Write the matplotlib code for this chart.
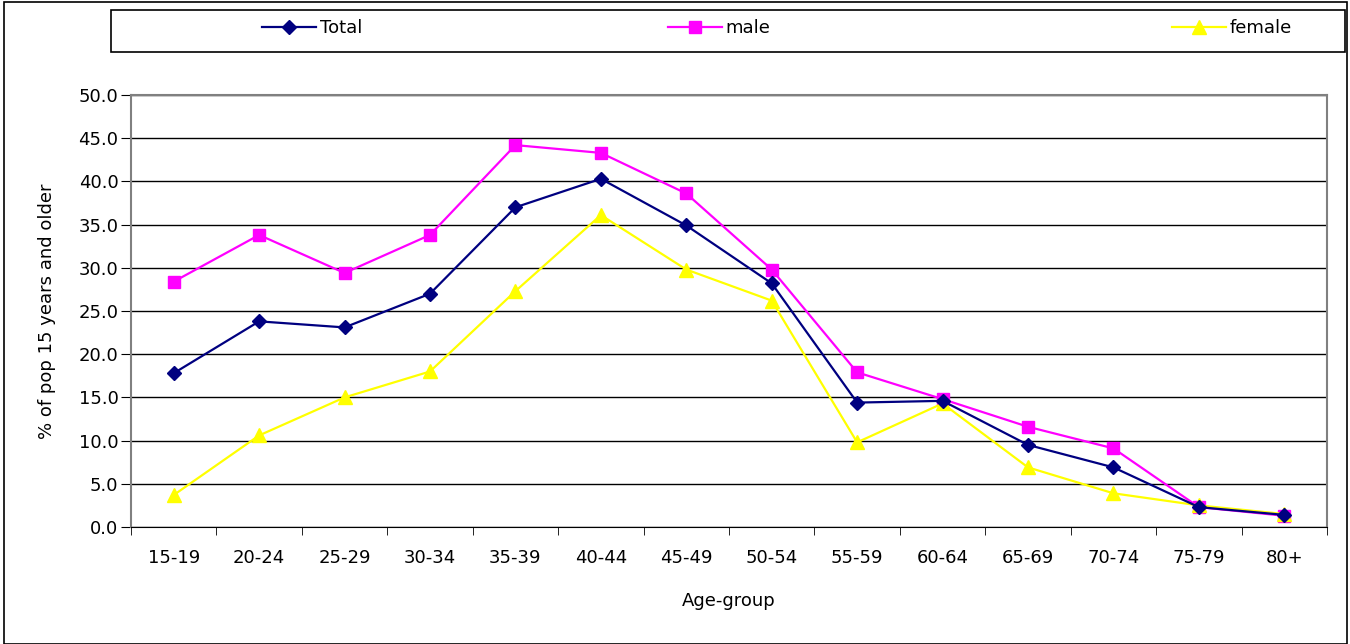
import matplotlib
matplotlib.use('Agg')
import matplotlib.pyplot as plt
from matplotlib.patches import Rectangle
from matplotlib.lines import Line2D

plt.rcParams['font.family'] = ['DejaVu Sans']

age_groups = ['15-19', '20-24', '25-29', '30-34', '35-39', '40-44', '45-49',
              '50-54', '55-59', '60-64', '65-69', '70-74', '75-79', '80+']
total = [17.8, 23.8, 23.1, 27.0, 37.0, 40.3, 34.9, 28.2, 14.4, 14.6, 9.5, 6.9, 2.3, 1.4]
male = [28.4, 33.8, 29.4, 33.8, 44.2, 43.3, 38.6, 29.8, 17.9, 14.8, 11.6, 9.1, 2.3, 1.3]
female = [3.7, 10.6, 15.0, 18.0, 27.3, 36.1, 29.8, 26.2, 9.8, 14.3, 6.9, 3.9, 2.5, 1.5]

fs = 13

fig = plt.figure(figsize=(13.5, 6.44), dpi=100)
ax = fig.add_axes([131/1350, 1-527/644, (1327-131)/1350, (527-95)/644])

x = list(range(len(age_groups)))
ax.plot(x, total, color='#000080', marker='D', markersize=7, lw=1.6, label='Total', zorder=4)
ax.plot(x, male, color='#FF00FF', marker='s', markersize=8.5, lw=1.6, label='male', zorder=3)
ax.plot(x, female, color='#FFFF00', marker='^', markersize=9.5, lw=1.6, label='female', zorder=3)

ax.set_xlim(-0.5, len(age_groups)-0.5)
ax.set_ylim(0, 50)
ax.set_yticks([i*5 for i in range(11)])
ax.set_yticklabels(['%.1f' % (i*5) for i in range(11)])
ax.yaxis.grid(True, color='black', lw=1)
ax.set_axisbelow(True)

ax.set_xticks(x)
ax.set_xticklabels(age_groups)
ax.set_xticks([i-0.5 for i in range(len(age_groups)+1)], minor=True)
ax.tick_params(axis='x', which='major', length=0, pad=16, labelsize=fs)
ax.tick_params(axis='x', which='minor', length=6, direction='out', color='black')
ax.tick_params(axis='y', length=7, direction='out', labelsize=fs, pad=2)

for s in ['left', 'top', 'right']:
    ax.spines[s].set_color('#808080')
    ax.spines[s].set_linewidth(1.5)
ax.spines['bottom'].set_color('black')

ax.set_xlabel('Age-group', fontsize=fs, labelpad=18)
ax.set_ylabel('% of pop 15 years and older', fontsize=fs, labelpad=16)

# legend box
fig.patches.append(Rectangle((111/1350, 1-52/644), (1345-111)/1350, 42/644,
                             transform=fig.transFigure, fill=False, ec='black', lw=1.2))
# outer border
fig.patches.append(Rectangle((4/1350, 0.5/644), 1343/1350, 642/644,
                             transform=fig.transFigure, fill=False, ec='black', lw=1.2))

entries = [('Total', '#000080', 'D', 7, 262), ('male', '#FF00FF', 's', 8.5, 668), ('female', '#FFFF00', '^', 9.5, 1172)]
for name, c, m, ms, px in entries:
    h = Line2D([], [], color=c, marker=m, markersize=ms, lw=1.6)
    fig.legend([h], [name], loc='center left', bbox_to_anchor=(px/1350, 1-28/644),
               frameon=False, fontsize=fs, handlelength=3, handletextpad=0.2,
               borderaxespad=0, borderpad=0)

fig.savefig('out.png', dpi=100)
